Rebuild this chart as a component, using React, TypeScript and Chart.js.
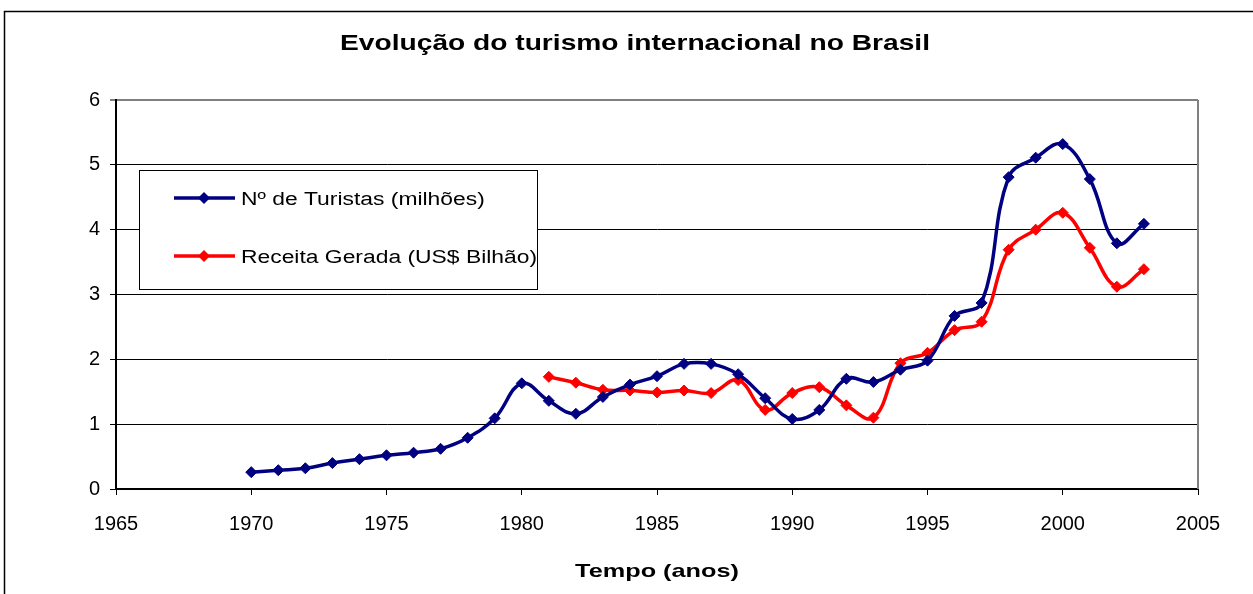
import React, { useEffect, useRef } from "react";
import { Chart, registerables } from "chart.js";

Chart.register(...registerables);

const TITLE = "Evolução do turismo internacional no Brasil";
const X_TITLE = "Tempo (anos)";

const turistasYears = [
  1970, 1971, 1972, 1973, 1974, 1975, 1976, 1977, 1978, 1979, 1980, 1981,
  1982, 1983, 1984, 1985, 1986, 1987, 1988, 1989, 1990, 1991, 1992, 1993,
  1994, 1995, 1996, 1997, 1998, 1999, 2000, 2001, 2002, 2003,
];
const turistas = [
  0.26, 0.29, 0.32, 0.4, 0.46, 0.52, 0.56, 0.62, 0.79, 1.09, 1.63, 1.36,
  1.16, 1.42, 1.61, 1.74, 1.93, 1.93, 1.77, 1.4, 1.08, 1.22, 1.7, 1.65,
  1.84, 1.98, 2.67, 2.87, 4.81, 5.11, 5.32, 4.78, 3.79, 4.09,
];

const receitaYears = [
  1981, 1982, 1983, 1984, 1985, 1986, 1987, 1988, 1989, 1990, 1991, 1992,
  1993, 1994, 1995, 1996, 1997, 1998, 1999, 2000, 2001, 2002, 2003,
];
const receita = [
  1.73, 1.64, 1.53, 1.52, 1.49, 1.52, 1.48, 1.68, 1.22, 1.48, 1.57, 1.29,
  1.1, 1.94, 2.1, 2.45, 2.58, 3.69, 4.0, 4.26, 3.72, 3.12, 3.39,
];

const seriesLabels = ["Nº de Turistas (milhões)", "Receita Gerada (US$ Bilhão)"];
const seriesColors = ["#000080", "#FF0000"];

const FONT = "'Liberation Sans', Arial, sans-serif";

function drawStretched(
  ctx: CanvasRenderingContext2D,
  text: string,
  x: number,
  y: number,
  font: string,
  sx: number,
  align: "left" | "center"
) {
  ctx.save();
  ctx.font = font;
  ctx.fillStyle = "#000";
  ctx.textBaseline = "alphabetic";
  ctx.textAlign = "left";
  const w = ctx.measureText(text).width * sx;
  const left = align === "center" ? x - w / 2 : x;
  ctx.translate(left, y);
  ctx.scale(sx, 1);
  ctx.fillText(text, 0, 0);
  ctx.restore();
}

const framePlugin = {
  id: "frameAndLegend",
  beforeDraw(chart: any) {
    const ctx = chart.ctx;
    ctx.save();
    ctx.fillStyle = "#fff";
    ctx.fillRect(0, 0, chart.width, chart.height);
    ctx.strokeStyle = "#000";
    ctx.lineWidth = 1.5;
    ctx.beginPath();
    ctx.moveTo(4.5, chart.height);
    ctx.lineTo(4.5, 11.5);
    ctx.lineTo(chart.width, 11.5);
    ctx.stroke();
    ctx.restore();
    const a = chart.chartArea;
    drawStretched(ctx, TITLE, 635, 50, `bold 22px ${FONT}`, 1.28, "center");
    drawStretched(ctx, X_TITLE, (a.left + a.right) / 2, 577, `bold 19px ${FONT}`, 1.33, "center");
  },
  afterDatasetsDraw(chart: any) {
    const ctx = chart.ctx;
    const a = chart.chartArea;
    ctx.save();
    ctx.strokeStyle = "#808080";
    ctx.lineWidth = 2;
    ctx.beginPath();
    ctx.moveTo(a.right, a.top);
    ctx.lineTo(a.right, a.bottom);
    ctx.stroke();

    const bx = 139.5, by = 170.5, bw = 398, bh = 119;
    ctx.fillStyle = "#fff";
    ctx.fillRect(bx, by, bw, bh);
    ctx.strokeStyle = "#000";
    ctx.lineWidth = 1;
    ctx.strokeRect(bx, by, bw, bh);
    const rows = [198, 256];
    chart.data.datasets.forEach((ds: any, i: number) => {
      const y = rows[i];
      ctx.strokeStyle = ds.borderColor;
      ctx.lineWidth = 3.5;
      ctx.beginPath();
      ctx.moveTo(174, y);
      ctx.lineTo(235, y);
      ctx.stroke();
      ctx.fillStyle = ds.borderColor;
      ctx.beginPath();
      const cx = 204, r = 6;
      ctx.moveTo(cx, y - r);
      ctx.lineTo(cx + r, y);
      ctx.lineTo(cx, y + r);
      ctx.lineTo(cx - r, y);
      ctx.closePath();
      ctx.fill();
      drawStretched(ctx, ds.label, 241, y + 6.5, `18px ${FONT}`, 1.27, "left");
    });
    ctx.restore();
  },
};

export default function App() {
  const ref = useRef<HTMLCanvasElement | null>(null);

  useEffect(() => {
    if (!ref.current) return;
    Chart.defaults.font.family = FONT;
    Chart.defaults.color = "#000";
    const chart = new Chart(ref.current, {
      type: "line",
      data: {
        datasets: [
          {
            label: seriesLabels[0],
            data: turistasYears.map((x, i) => ({ x, y: turistas[i] })),
            borderColor: seriesColors[0],
            backgroundColor: seriesColors[0],
            pointStyle: "rectRot",
            pointRadius: 5.5,
            pointBorderWidth: 1,
            borderWidth: 3.5,
            tension: 0.4,
          },
          {
            label: seriesLabels[1],
            data: receitaYears.map((x, i) => ({ x, y: receita[i] })),
            borderColor: seriesColors[1],
            backgroundColor: seriesColors[1],
            pointStyle: "rectRot",
            pointRadius: 5.5,
            pointBorderWidth: 1,
            borderWidth: 3.5,
            tension: 0.4,
          },
        ],
      },
      options: {
        animation: false,
        responsive: false,
        devicePixelRatio: 1,
        layout: { padding: { left: 0, right: 55, top: 100, bottom: 0 } },
        plugins: {
          legend: { display: false },
          tooltip: { enabled: false },
          title: { display: false },
        },
        scales: {
          x: {
            type: "linear",
            min: 1965,
            max: 2005,
            afterFit: (s: any) => {
              s.height = 105;
            },
            ticks: {
              stepSize: 5,
              color: "#000",
              font: { family: FONT, size: 20 },
              padding: 17,
              maxRotation: 0,
              callback: (v: any) => String(v),
            },
            grid: {
              drawOnChartArea: false,
              drawTicks: true,
              tickLength: 6,
              color: "#000",
            },
            border: { color: "#000", width: 2 },
          },
          y: {
            min: 0,
            max: 6,
            afterFit: (s: any) => {
              s.width = 116;
            },
            ticks: {
              stepSize: 1,
              color: "#000",
              font: { family: FONT, size: 20 },
              padding: 10,
            },
            grid: {
              drawTicks: true,
              tickLength: 6,
              color: (c: any) => (c.tick && c.tick.value === 6 ? "#808080" : "#000"),
              lineWidth: (c: any) => (c.tick && c.tick.value === 6 ? 2 : 1),
            },
            border: { color: "#000", width: 2 },
          },
        },
      },
      plugins: [framePlugin],
    } as any);
    return () => chart.destroy();
  }, []);

  return (
    <div style={{ position: "fixed", left: 0, top: 0, width: 1253, height: 594 }}>
      <canvas ref={ref} width={1253} height={594} style={{ width: 1253, height: 594 }} />
    </div>
  );
}
